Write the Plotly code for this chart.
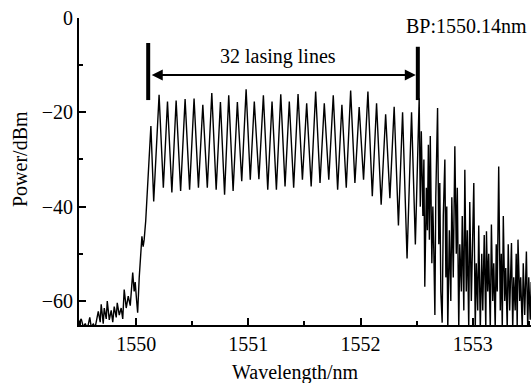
import plotly.graph_objects as go

# ---- data ----
# left noise floor + rising edge (wavelength nm, power dBm)
wl_left = [1549.492, 1549.510, 1549.528, 1549.546, 1549.564, 1549.586, 1549.599, 1549.617,
           1549.635, 1549.662, 1549.679, 1549.688, 1549.706, 1549.715, 1549.733, 1549.742,
           1549.760, 1549.777, 1549.791, 1549.804, 1549.822, 1549.831, 1549.849, 1549.866,
           1549.880, 1549.893, 1549.911, 1549.929, 1549.947, 1549.969, 1549.982, 1549.991,
           1550.004, 1550.013, 1550.027, 1550.040, 1550.051, 1550.062, 1550.071, 1550.085,
           1550.098, 1550.111]
pw_left = [-64.5, -63.8, -65.5, -64.8, -66.0, -63.5, -65.5, -64.9,
           -65.5, -62.2, -64.5, -60.7, -64.8, -61.5, -63.8, -60.0,
           -64.0, -62.0, -64.5, -61.2, -63.5, -60.4, -63.0, -61.5,
           -63.8, -57.6, -61.5, -59.0, -61.0, -54.0, -58.0, -56.0,
           -60.0, -62.5, -55.0, -50.0, -46.3, -48.5, -47.0, -43.0,
           -37.0, -30.0]

# 32 lasing lines: peaks
wl_peaks = [1550.131, 1550.204, 1550.279, 1550.356, 1550.436, 1550.516, 1550.594, 1550.674,
            1550.751, 1550.825, 1550.902, 1550.980, 1551.053, 1551.134, 1551.211, 1551.289,
            1551.365, 1551.443, 1551.520, 1551.600, 1551.677, 1551.757, 1551.834, 1551.912,
            1551.988, 1552.066, 1552.143, 1552.224, 1552.300, 1552.375, 1552.455, 1552.523]
pw_peaks = [-22.9, -16.3, -17.7, -17.5, -17.2, -17.1, -18.4, -15.9,
            -17.8, -16.4, -17.8, -15.1, -17.7, -16.4, -17.7, -16.2,
            -17.7, -16.1, -18.1, -15.6, -18.1, -16.4, -18.4, -15.4,
            -18.9, -15.6, -18.1, -20.4, -18.8, -20.0, -20.0, -17.0]
# valleys between consecutive lasing lines
wl_valleys = [1550.156, 1550.242, 1550.318, 1550.396, 1550.476, 1550.555, 1550.634, 1550.713,
              1550.788, 1550.864, 1550.941, 1551.017, 1551.094, 1551.173, 1551.250, 1551.327,
              1551.404, 1551.482, 1551.560, 1551.639, 1551.717, 1551.796, 1551.873, 1551.950,
              1552.027, 1552.105, 1552.184, 1552.262, 1552.338, 1552.415, 1552.489]
pw_valleys = [-38.9, -36.0, -37.0, -36.7, -36.4, -36.0, -36.0, -36.4,
              -37.5, -36.7, -34.6, -34.3, -34.2, -36.4, -36.4, -35.7,
              -36.0, -34.3, -35.7, -35.0, -34.3, -36.4, -36.0, -35.0,
              -34.3, -37.8, -39.6, -38.2, -44.0, -51.0, -48.0]

# right noisy tail
wl_right = [1552.533, 1552.542, 1552.556, 1552.565, 1552.573, 1552.587, 1552.596, 1552.605,
            1552.614, 1552.622, 1552.636, 1552.645, 1552.654, 1552.663, 1552.671, 1552.687,
            1552.698, 1552.707, 1552.716, 1552.728, 1552.738, 1552.752, 1552.761, 1552.769,
            1552.778, 1552.792, 1552.805, 1552.814, 1552.827, 1552.841, 1552.854, 1552.863,
            1552.876, 1552.885, 1552.899, 1552.907, 1552.921, 1552.930, 1552.943, 1552.952,
            1552.965, 1552.974, 1552.988, 1552.996, 1553.010, 1553.023, 1553.032, 1553.045,
            1553.054, 1553.068, 1553.081, 1553.090, 1553.103, 1553.117, 1553.123, 1553.134,
            1553.143, 1553.157, 1553.167, 1553.179, 1553.188, 1553.201, 1553.210, 1553.219,
            1553.232, 1553.246, 1553.255, 1553.264, 1553.273, 1553.286, 1553.295, 1553.308,
            1553.317, 1553.330, 1553.346, 1553.357, 1553.366, 1553.379, 1553.388, 1553.397,
            1553.404, 1553.419, 1553.428, 1553.442, 1553.451, 1553.464, 1553.479, 1553.491,
            1553.500, 1553.513, 1553.522]
pw_right = [-40.0, -24.0, -42.0, -30.0, -57.0, -36.0, -45.0, -26.9,
            -47.0, -25.0, -52.0, -40.0, -50.0, -63.0, -38.0, -19.1,
            -48.0, -35.0, -58.0, -64.6, -42.0, -30.0, -55.0, -40.0,
            -66.0, -45.0, -60.0, -38.0, -55.0, -27.2, -50.0, -36.0,
            -66.0, -48.0, -58.0, -42.0, -62.0, -32.2, -58.0, -45.0,
            -66.0, -39.0, -60.0, -48.0, -35.0, -66.0, -52.0, -62.0,
            -44.0, -66.0, -50.0, -62.0, -46.0, -66.0, -45.2, -58.0,
            -50.0, -66.0, -43.8, -60.0, -52.0, -66.0, -48.0, -58.0,
            -31.5, -62.0, -50.0, -66.0, -42.0, -60.0, -53.0, -66.0,
            -48.0, -62.0, -47.7, -66.0, -55.0, -62.0, -50.0, -66.0,
            -47.0, -60.0, -55.0, -66.0, -52.0, -63.0, -49.5, -66.0,
            -55.0, -64.0, -56.0]

x_ticks = [1550, 1551, 1552, 1553]
x_ticklabels = ["1550", "1551", "1552", "1553"]
y_ticks = [0, -20, -40, -60]
y_ticklabels = ["0", "\u221220", "\u221240", "\u221260"]

# assemble lasing comb: peak, valley, peak, valley ...
wl_comb, pw_comb = [], []
for i in range(len(wl_peaks)):
    wl_comb.append(wl_peaks[i]); pw_comb.append(pw_peaks[i])
    if i < len(wl_valleys):
        wl_comb.append(wl_valleys[i]); pw_comb.append(pw_valleys[i])

wl = wl_left + wl_comb + wl_right
pw = pw_left + pw_comb + pw_right

FONT = "Liberation Serif, Times New Roman, serif"

fig = go.Figure()
fig.add_trace(go.Scatter(x=wl, y=pw, mode="lines",
                         line=dict(color="black", width=1.4), showlegend=False,
                         hoverinfo="skip"))

axis_common = dict(showgrid=False, zeroline=False, showline=True, linecolor="black",
                   linewidth=2, ticks="inside", ticklen=7, tickwidth=1.5, tickcolor="black",
                   tickfont=dict(family=FONT, size=20, color="black"), mirror=False)

fig.update_xaxes(range=[1549.49, 1553.52], tickvals=x_ticks, ticktext=x_ticklabels,
                 minor=dict(ticks="inside", dtick=0.5, tick0=1549.5, ticklen=4,
                            tickwidth=1.5, tickcolor="black"),
                 **axis_common)
fig.update_yaxes(range=[-65.1, 0], tickvals=y_ticks, ticktext=y_ticklabels,
                 minor=dict(ticks="inside", dtick=10, tick0=0, ticklen=4,
                            tickwidth=1.5, tickcolor="black"),
                 **axis_common)

# marker bars
fig.add_shape(type="line", x0=1550.107, x1=1550.107, y0=-5.3, y1=-17.4,
              line=dict(color="black", width=4))
fig.add_shape(type="line", x0=1552.511, x1=1552.511, y0=-6.1, y1=-17.4,
              line=dict(color="black", width=4))
# double-headed arrow
fig.add_annotation(x=1552.493, y=-12.1, ax=1550.125, ay=-12.1, xref="x", yref="y",
                   axref="x", ayref="y", showarrow=True, arrowhead=2, startarrowhead=2,
                   arrowside="end+start", arrowsize=1.1, startarrowsize=1.1,
                   arrowwidth=2, arrowcolor="black", text="")

fig.add_annotation(x=1551.264, y=-8.25, xref="x", yref="y", text="32 lasing lines",
                   showarrow=False, font=dict(family=FONT, size=20, color="black"),
                   xanchor="center", yanchor="middle")
fig.add_annotation(x=0.857, y=0.974, xref="paper", yref="paper", text="BP:1550.14nm",
                   showarrow=False, font=dict(family=FONT, size=20, color="black"),
                   xanchor="center", yanchor="middle")
fig.add_annotation(x=-0.1305, y=0.5407, xref="paper", yref="paper", text="Power/dBm",
                   textangle=-90, showarrow=False,
                   font=dict(family=FONT, size=20, color="black"),
                   xanchor="center", yanchor="middle")
fig.add_annotation(x=0.480, y=-0.156, xref="paper", yref="paper", text="Wavelength/nm",
                   showarrow=False, font=dict(family=FONT, size=20, color="black"),
                   xanchor="center", yanchor="middle")

fig.update_layout(width=531, height=383, margin=dict(l=79, r=0, t=18, b=58),
                  paper_bgcolor="white", plot_bgcolor="white")

fig.write_html("out.html")
